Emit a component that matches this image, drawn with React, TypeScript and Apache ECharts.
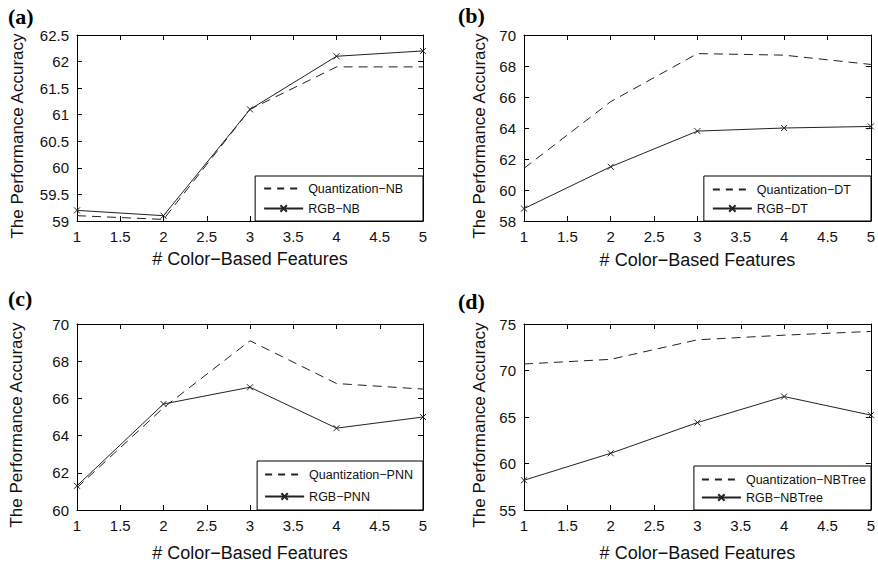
import React, { useEffect, useRef } from "react";
import * as echarts from "echarts";

// ---- data ----
const featureCounts = [1, 2, 3, 4, 5];

const quantNB = [59.1, 59.03, 61.1, 61.9, 61.9];
const rgbNB = [59.2, 59.1, 61.1, 62.1, 62.2];

const quantDT = [61.4, 65.7, 68.8, 68.7, 68.1];
const rgbDT = [58.8, 61.5, 63.8, 64.0, 64.1];

const quantPNN = [61.2, 65.5, 69.1, 66.8, 66.5];
const rgbPNN = [61.3, 65.7, 66.6, 64.4, 65.0];

const quantNBTree = [70.7, 71.2, 73.3, 73.8, 74.2];
const rgbNBTree = [58.2, 61.1, 64.4, 67.2, 65.2];

const panelLabels = ["(a)", "(b)", "(c)", "(d)"];
const quantNames = ["Quantization\u2212NB", "Quantization\u2212DT", "Quantization\u2212PNN", "Quantization\u2212NBTree"];
const rgbNames = ["RGB\u2212NB", "RGB\u2212DT", "RGB\u2212PNN", "RGB\u2212NBTree"];
const quantValues = [quantNB, quantDT, quantPNN, quantNBTree];
const rgbValues = [rgbNB, rgbDT, rgbPNN, rgbNBTree];

const xTickMin = 1;
const xTickMax = 5;
const xTickStep = 0.5;
// y ticks: [min, max, step]
const yTicks = [
  [59, 62.5, 0.5],
  [58, 70, 2],
  [60, 70, 2],
  [55, 75, 5],
];

const xAxisTitle = "# Color\u2212Based Features";
const yAxisTitle = "The Performance Accuracy";

// ---- layout / style ----
const W = 878;
const H = 564;
const FONT = "'Liberation Sans', Arial, Helvetica, sans-serif";
const INK = "#111";

const layout = [
  { left: 77, top: 35, width: 346, height: 186, yGap: 51, xGap: 29, lab: [8, 5], legPad: [6, 20, 6, 8], legGap: 7 },
  { left: 524, top: 35, width: 347, height: 186, yGap: 36, xGap: 30, lab: [458, 4], legPad: [7, 20, 6, 8], legGap: 6 },
  { left: 77, top: 324, width: 346, height: 186, yGap: 52, xGap: 34, lab: [8, 287], legPad: [7, 10, 7, 7], legGap: 9 },
  { left: 524, top: 324, width: 347, height: 186, yGap: 36, xGap: 34, lab: [458, 290], legPad: [7, 5, 6, 7], legGap: 5 },
];

function pairs(vals: number[]) {
  return featureCounts.map((x, i) => [x, vals[i]]);
}

function buildOption() {
  const grid: any[] = [];
  const xAxis: any[] = [];
  const yAxis: any[] = [];
  const series: any[] = [];
  const legend: any[] = [];
  const graphic: any[] = [];

  layout.forEach((p, i) => {
    grid.push({ left: p.left, top: p.top, width: p.width, height: p.height, containLabel: false });
    const [ymin, ymax, ystep] = yTicks[i];
    const lineStyle = { color: "#000", width: 1 };
    const tick = { show: true, inside: true, length: 5, lineStyle };
    xAxis.push({
      type: "value", gridIndex: i, position: "bottom",
      min: xTickMin, max: xTickMax, interval: xTickStep,
      axisLine: { show: true, onZero: false, lineStyle },
      axisTick: tick,
      axisLabel: { color: INK, fontSize: 15, fontFamily: FONT, margin: 8 },
      splitLine: { show: false },
      name: xAxisTitle, nameLocation: "middle", nameGap: p.xGap,
      nameTextStyle: { color: INK, fontSize: 18, fontFamily: FONT },
    });
    xAxis.push({
      type: "value", gridIndex: i, position: "top",
      min: xTickMin, max: xTickMax, interval: xTickStep,
      axisLine: { show: true, onZero: false, lineStyle },
      axisTick: tick,
      axisLabel: { show: false },
      splitLine: { show: false },
    });
    yAxis.push({
      type: "value", gridIndex: i, position: "left",
      min: ymin, max: ymax, interval: ystep,
      axisLine: { show: true, onZero: false, lineStyle },
      axisTick: tick,
      axisLabel: { color: INK, fontSize: 15, fontFamily: FONT, margin: 8 },
      splitLine: { show: false },
      name: yAxisTitle, nameLocation: "middle", nameGap: p.yGap,
      nameTextStyle: { color: INK, fontSize: 17, fontFamily: FONT, padding: [0, 16, 0, 0] },
    });
    yAxis.push({
      type: "value", gridIndex: i, position: "right",
      min: ymin, max: ymax, interval: ystep,
      axisLine: { show: true, onZero: false, lineStyle },
      axisTick: tick,
      axisLabel: { show: false },
      splitLine: { show: false },
    });

    series.push({
      type: "line", name: quantNames[i],
      xAxisIndex: 2 * i, yAxisIndex: 2 * i,
      data: pairs(quantValues[i]),
      symbol: "none",
      lineStyle: { color: "#222", width: 1, type: [9, 6] },
      itemStyle: { color: "#222", opacity: 0 },
      z: 2,
    });
    series.push({
      type: "line", name: rgbNames[i],
      xAxisIndex: 2 * i, yAxisIndex: 2 * i,
      data: pairs(rgbValues[i]),
      symbol: "path://M0,0L10,10M10,0L0,10",
      symbolSize: 6,
      lineStyle: { color: "#222", width: 1, type: "solid" },
      itemStyle: { color: "none", borderColor: "#222", borderWidth: 1 },
      z: 3,
    });

    legend.push({
      orient: "vertical",
      right: W - (p.left + p.width),
      bottom: H - (p.top + p.height),
      data: [
        { name: quantNames[i], itemStyle: { opacity: 0 }, lineStyle: { type: [7, 6] } },
        { name: rgbNames[i] },
      ],
      backgroundColor: "#fff",
      borderColor: "#000",
      borderWidth: 1,
      borderRadius: 0,
      padding: p.legPad,
      itemGap: p.legGap,
      itemWidth: 39,
      itemHeight: 8,
      textStyle: { color: INK, fontSize: 12.5, fontFamily: FONT },
      selectedMode: false,
      z: 10,
    });

    graphic.push({
      type: "text",
      left: p.lab[0],
      top: p.lab[1],
      style: {
        text: panelLabels[i],
        fill: "#000",
        font: "bold 22px 'Liberation Serif', 'Times New Roman', serif",
      },
    });
  });

  return {
    animation: false,
    backgroundColor: "#fff",
    grid, xAxis, yAxis, series, legend, graphic,
  };
}

export default function App() {
  const ref = useRef<HTMLDivElement>(null);
  useEffect(() => {
    document.body.style.margin = "0";
    if (!ref.current) return;
    const chart = echarts.init(ref.current, undefined, { renderer: "svg" });
    chart.setOption(buildOption() as any);
    return () => chart.dispose();
  }, []);
  return <div ref={ref} style={{ width: W, height: H }} />;
}
